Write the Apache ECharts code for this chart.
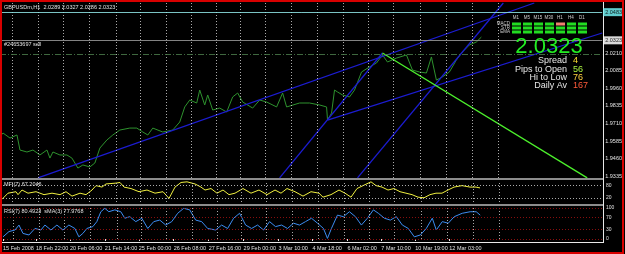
<!DOCTYPE html>
<html>
<head>
<meta charset="utf-8">
<script src="https://cdn.jsdelivr.net/npm/echarts@6/dist/echarts.min.js"></script>
<style>
  html, body { margin: 0; padding: 0; background: #000; }
  #root { width: 625px; height: 254px; }
</style>
</head>
<body>
<div id="root"></div>
<script>
// GBPUSDm H1, closes (x = bar position)
const priceBars = [0, 3, 10, 17, 20, 27, 33, 40, 47, 50, 53, 60, 67, 72, 78, 83, 90, 95, 100, 107, 113, 120, 130, 137, 143, 148, 153, 163, 173, 180, 185, 190, 197, 200, 205, 208, 213, 220, 227, 233, 238, 243, 253, 260, 267, 277, 283, 287, 300,
  310, 320, 327, 328, 332, 335, 338, 343, 350, 355, 362, 370, 377, 383, 388, 397, 407, 413, 420, 427, 432, 437, 443, 450, 457, 463, 470, 477, 482]
const priceClose = [1.9616, 1.9642, 1.9606, 1.9628, 1.9521, 1.9507, 1.9521, 1.9486, 1.9521, 1.9464, 1.9507, 1.9486, 1.9486, 1.9464, 1.9393, 1.9415, 1.9401, 1.9429, 1.9535, 1.9592, 1.9628, 1.9663, 1.9677, 1.9677, 1.9649, 1.9628, 1.9677, 1.9649, 1.9663, 1.9720, 1.9827, 1.9876, 1.9855, 1.9947, 1.9841, 1.9912, 1.9805, 1.9819, 1.9791, 1.9898, 1.9926, 1.9862, 1.9819, 1.9876, 1.9862, 1.9827, 1.9926, 1.9827, 1.9855,
  1.9855, 1.9841, 1.9827, 1.9734, 1.9784, 1.9947, 1.9933, 1.9912, 1.9898, 1.9947, 2.0075, 2.0111, 2.0139, 2.0196, 2.0146, 2.0174, 2.0196, 2.0089, 2.0075, 2.0068, 2.0182, 2.0018, 2.0040, 2.0075, 2.0160, 2.0217, 2.0267, 2.0288, 2.0323]

const mfiBars = [2, 8, 16, 18, 22, 28, 36, 44, 52, 60, 66, 72, 80, 86, 92, 96, 102, 106, 116, 120, 124, 131, 139, 147, 155, 163, 169, 175, 181, 187, 195, 201, 205, 211, 217, 223, 229, 235, 243, 251, 259, 267, 275, 281, 287, 295, 303, 311, 319, 323, 331, 339, 345, 351, 357, 363, 371, 376, 382, 388, 394, 400, 406, 412, 418, 424, 430, 436, 442, 448, 454, 462, 470, 476, 480]
const mfiValues = [13, 42, 49, 35, 57, 42, 49, 35, 42, 35, 49, 28, 42, 35, 57, 78, 71, 86, 90, 93, 71, 64, 49, 57, 42, 49, 17, 71, 93, 96, 86, 71, 57, 64, 42, 57, 35, 42, 64, 42, 57, 35, 57, 42, 64, 49, 28, 49, 42, 23, 35, 57, 42, 23, 64, 78, 96, 78, 71, 57, 64, 49, 42, 35, 23, 20, 35, 42, 42, 57, 71, 78, 71, 71, 67]

const rsiBars = [2, 8, 14, 18, 22, 28, 34, 40, 44, 50, 56, 62, 68, 74, 78, 82, 86, 92, 96, 100, 104, 108, 114, 120, 124, 129, 135, 141, 147, 153, 159, 165, 171, 177, 183, 189, 195, 201, 207, 215, 221, 227, 233, 239, 245, 251, 257, 263, 269, 275, 281, 287, 293, 299, 305, 311, 317, 323, 327, 331, 337, 343, 349, 355, 361, 367, 373, 378, 384, 390, 396, 402, 408, 414, 420, 426, 432, 436, 442, 448, 454, 462, 470, 476, 480]
const rsiValues = [7, 24, 29, 45, 18, 13, 34, 29, 45, 29, 45, 29, 45, 34, 7, 18, 34, 40, 56, 88, 99, 88, 94, 88, 67, 72, 56, 67, 34, 56, 61, 45, 56, 83, 99, 94, 61, 56, 34, 29, 45, 34, 67, 83, 45, 34, 45, 29, 56, 40, 45, 34, 51, 45, 56, 67, 51, 34, 2, 34, 77, 72, 88, 72, 45, 67, 94, 83, 67, 61, 72, 45, 34, 7, 13, 34, 67, 29, 56, 51, 72, 83, 88, 88, 77]

// drawn objects: [bar, price] end points
const channelLines = [
  [[38, 1.9323], [535, 2.0565]],
  [[328, 1.9734], [603, 2.0352]],
  [[280, 1.9323], [383, 2.0210]],
  [[358, 1.9323], [504, 2.0565]]
]
const fallLine = [[383, 2.0210], [588, 1.9323]]
const alertLevel = 2.0483
const bidLevel = 2.0323
const orderLevel = 2.0246

const priceTicks = [2.0210, 2.0085, 1.9960, 1.9835, 1.9710, 1.9585, 1.9460, 1.9335]
const dateBars = [2, 35, 69, 104, 138, 173, 208, 243, 278, 312, 347, 381, 415, 449]
const dateLabels = ['15 Feb 2008', '18 Feb 22:00', '20 Feb 06:00', '21 Feb 14:00', '25 Feb 00:00', '26 Feb 08:00', '27 Feb 16:00', '29 Feb 00:00', '3 Mar 10:00', '4 Mar 18:00', '6 Mar 02:00', '7 Mar 10:00', '10 Mar 19:00', '12 Mar 03:00']
const gridBars = [12, 38, 63, 89, 116, 140, 166, 192, 217, 241, 266, 292, 318, 344, 369, 394, 421, 447, 473, 499]
const mfiLevels = [80, 20]
const rsiLevels = [100, 70, 30, 0]

// info panel
const tfNames = ['M1', 'M5', 'M15', 'M30', 'H1', 'H4', 'D1']
const signalNames = ['MACD', 'STR', 'EMA']
const signalState = [[1, 1, 1, 1, 0, 1, 1], [1, 1, 1, 1, 1, 1, 1], [1, 1, 1, 1, 1, 1, 1]]
const statNames = ['Spread', 'Pips to Open', 'Hi to Low', 'Daily Av']
const statValues = ['4', '56', '76', '167']
const statColors = ['#ffe030', '#a8f040', '#ffd040', '#ff5a3a']
const lastPrice = '2.0323'
const headerText = 'GBPUSDm,H1  2.0289 2.0327 2.0286 2.0323'

const FONT = 'Liberation Sans, Arial, sans-serif'
const chart = echarts.init(document.getElementById('root'))

const zip = (xs, ys) => xs.map((x, i) => [x, ys[i]])

const vGrid = {
  silent: true, symbol: 'none', label: { show: false },
  lineStyle: { color: '#c8c8c8', type: [1, 2], width: 1, opacity: 0.85 },
  data: gridBars.map(b => ({ xAxis: b }))
}

const xBase = { type: 'value', min: 0, max: 603, show: false }

const graphic = []
// frame, separators, axis lines
graphic.push({ type: 'rect', shape: { x: 0, y: 178, width: 603, height: 2 }, style: { fill: '#8c8c8c' } })
graphic.push({ type: 'rect', shape: { x: 0, y: 204, width: 603, height: 2 }, style: { fill: '#8c8c8c' } })
graphic.push({ type: 'line', shape: { x1: 603.5, y1: 2, x2: 603.5, y2: 243 }, style: { stroke: '#e8e8e8', lineWidth: 1 } })
graphic.push({ type: 'line', shape: { x1: 0, y1: 242.5, x2: 604, y2: 242.5 }, style: { stroke: '#e8e8e8', lineWidth: 1 } })
graphic.push({ type: 'rect', shape: { x: 1, y: 1, width: 622, height: 252 }, style: { fill: null, stroke: '#d80000', lineWidth: 2 }, z: 100 })
// texts
const txt = (text, x, y, size, fill, align) => ({
  type: 'text', x: x, y: y, z: 50,
  style: { text: text, fill: fill, fontSize: size, fontFamily: FONT, align: align || 'left', verticalAlign: 'middle' }
})
graphic.push(txt(headerText, 4, 7, 5.5, '#e0e0e0'))
graphic.push(txt('#24653697 sell', 4, 44, 5.5, '#e0e0e0'))
graphic.push(txt('MFI(7) 67.2046', 4, 184.5, 5.5, '#e0e0e0'))
graphic.push(txt('RSI(7) 80.4923  sMA(3) 77.9768', 4, 211.5, 5.5, '#e0e0e0'))

tfNames.forEach((n, c) => {
  graphic.push(txt(n, 516 + c * 11, 17.5, 4.5, '#d0d0d0', 'center'))
})
signalNames.forEach((n, r) => {
  graphic.push(txt(n, 510, 24 + r * 4, 4.5, '#d0d0d0', 'right'))
  signalState[r].forEach((s, c) => {
    graphic.push({
      type: 'rect', z: 50,
      shape: { x: 512 + c * 11, y: 22.5 + r * 4, width: 9, height: 3 },
      style: { fill: s ? '#22dd22' : '#f08070' }
    })
  })
})
graphic.push(txt(lastPrice, 549, 46.5, 22, '#22ee22', 'center'))
statNames.forEach((n, i) => {
  graphic.push(txt(n, 567, 61 + i * 8.3, 9, '#e6e6e6', 'right'))
  graphic.push(txt(statValues[i], 573, 61 + i * 8.3, 9, statColors[i], 'left'))
})

const boxLabel = (text, bg) => ({
  show: true, position: 'end', distance: 1, formatter: text,
  backgroundColor: bg, color: '#000', fontSize: 5.5, fontFamily: FONT, padding: [1, 2]
})

const option = {
  animation: false,
  backgroundColor: '#000',
  grid: [
    { left: 0, top: 3, width: 603, height: 175 },
    { left: 0, top: 181, width: 603, height: 21 },
    { left: 0, top: 208, width: 603, height: 31 }
  ],
  xAxis: [
    Object.assign({ gridIndex: 0 }, xBase),
    Object.assign({ gridIndex: 1 }, xBase),
    {
      gridIndex: 2, type: 'value', min: 0, max: 603, offset: 3,
      axisLine: { show: false },
      splitLine: { show: false },
      axisTick: { show: true, customValues: dateBars, length: 2, lineStyle: { color: '#e8e8e8' } },
      axisLabel: {
        customValues: dateBars, margin: 3, align: 'left', color: '#e0e0e0',
        fontSize: 5.5, fontFamily: FONT,
        formatter: v => dateLabels[dateBars.indexOf(v)]
      }
    }
  ],
  yAxis: [
    {
      gridIndex: 0, type: 'value', position: 'right', min: 1.93225, max: 2.0565,
      axisLine: { show: false }, splitLine: { show: false },
      axisTick: { show: true, customValues: priceTicks, length: 2, lineStyle: { color: '#e8e8e8' } },
      axisLabel: { customValues: priceTicks, margin: 3, color: '#e0e0e0', fontSize: 5.5, fontFamily: FONT, formatter: v => v.toFixed(4) }
    },
    {
      gridIndex: 1, type: 'value', position: 'right', min: 0, max: 100,
      axisLine: { show: false }, splitLine: { show: false }, axisTick: { show: false },
      axisLabel: { customValues: [100, 80, 20, 0], margin: 3, color: '#e0e0e0', fontSize: 5, fontFamily: FONT }
    },
    {
      gridIndex: 2, type: 'value', position: 'right', min: 0, max: 100,
      axisLine: { show: false }, splitLine: { show: false }, axisTick: { show: false },
      axisLabel: { customValues: rsiLevels, margin: 3, color: '#e0e0e0', fontSize: 5, fontFamily: FONT }
    }
  ],
  series: [
    {
      type: 'line', xAxisIndex: 0, yAxisIndex: 0, data: zip(priceBars, priceClose),
      symbol: 'none', lineStyle: { color: '#2e922e', width: 1 }, z: 3,
      markLine: Object.assign({}, vGrid, {
        data: gridBars.map(b => ({ xAxis: b })).concat([
          { yAxis: alertLevel, lineStyle: { color: '#8fe6e6', type: 'solid' }, label: boxLabel(String(alertLevel), '#70eef0') },
          { yAxis: bidLevel, lineStyle: { color: '#9a9a9a', type: 'solid' }, label: boxLabel(bidLevel.toFixed(4), '#ffffff') },
          { yAxis: orderLevel, lineStyle: { color: '#4a7a4a', type: [6, 2, 1, 2] } }
        ])
      })
    },
    ...channelLines.map(seg => ({
      type: 'line', xAxisIndex: 0, yAxisIndex: 0, data: seg, symbol: 'none', silent: true, z: 4,
      lineStyle: { color: '#1c1cd2', width: 1.3 }
    })),
    {
      type: 'line', xAxisIndex: 0, yAxisIndex: 0, data: fallLine, symbol: 'none', silent: true, z: 4,
      lineStyle: { color: '#4cf02c', width: 1.3 }
    },
    {
      type: 'line', xAxisIndex: 1, yAxisIndex: 1, data: zip(mfiBars, mfiValues),
      symbol: 'none', lineStyle: { color: '#f0f040', width: 1 },
      markLine: Object.assign({}, vGrid, {
        data: gridBars.map(b => ({ xAxis: b })).concat(mfiLevels.map(l => ({ yAxis: l })))
      })
    },
    {
      type: 'line', xAxisIndex: 2, yAxisIndex: 2, data: zip(rsiBars, rsiValues),
      symbol: 'none', lineStyle: { color: '#3c8cf0', width: 1 },
      markLine: Object.assign({}, vGrid, {
        data: gridBars.map(b => ({ xAxis: b })).concat(rsiLevels.map(l => ({ yAxis: l, lineStyle: { color: '#a01010', type: [1, 2] } })))
      })
    }
  ],
  graphic: graphic
}

chart.setOption(option)
</script>
</body>
</html>
